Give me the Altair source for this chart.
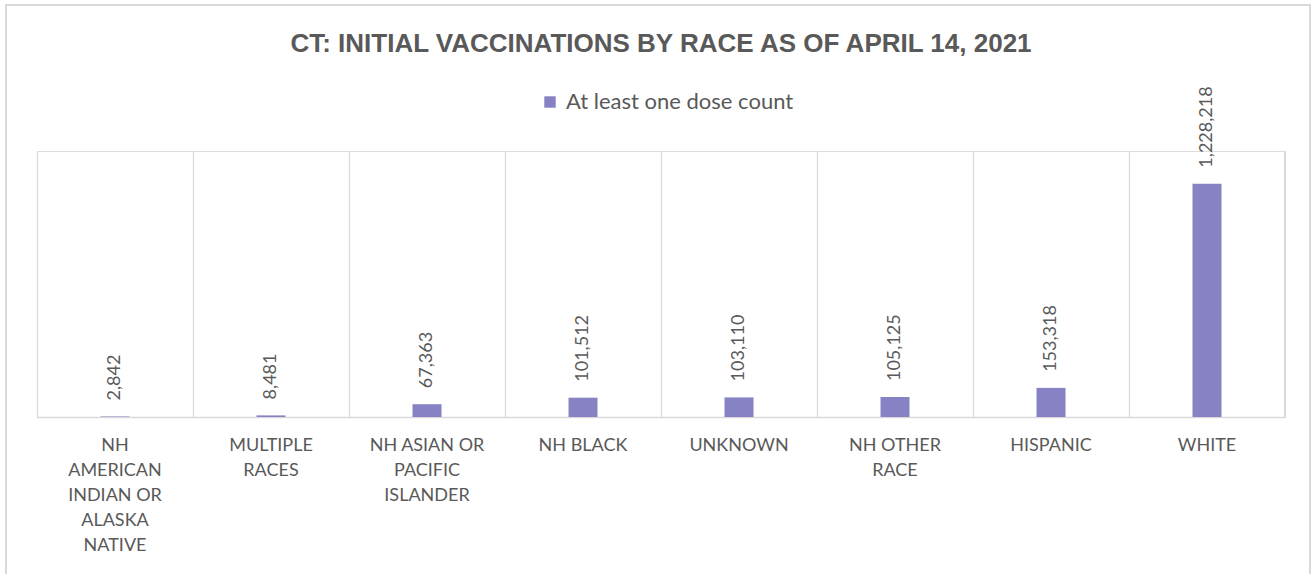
import altair as alt
import pandas as pd

# Initial (at least one dose) vaccination counts in Connecticut, by race
categories = [
    "NH|AMERICAN|INDIAN OR|ALASKA|NATIVE",
    "MULTIPLE|RACES",
    "NH ASIAN OR|PACIFIC|ISLANDER",
    "NH BLACK",
    "UNKNOWN",
    "NH OTHER|RACE",
    "HISPANIC",
    "WHITE",
]
dose_counts = [2842, 8481, 67363, 101512, 103110, 105125, 153318, 1228218]
series_name = "At least one dose count"

df = pd.DataFrame({
    "race": categories,
    "count": dose_counts,
    "series": [series_name] * len(categories),
})

W, H = 1248, 266
BAR_COLOR = "#8682c4"
TEXT_GRAY = "#595959"
LINE_GRAY = "#d9d9d9"

x_enc = alt.X(
    "race:N",
    sort=categories,
    scale=alt.Scale(paddingInner=0, paddingOuter=0),
    axis=alt.Axis(
        title=None,
        labelAngle=0,
        labelExpr="split(datum.label, '|')",
        labelFont="Lato",
        labelFontSize=18,
        labelColor=TEXT_GRAY,
        labelLineHeight=25,
        labelPadding=19,
        labelBaseline="top",
        ticks=False,
        domainColor=LINE_GRAY,
        domainWidth=1.5,
        grid=True,
        gridColor=LINE_GRAY,
        gridWidth=1.2,
        bandPosition=0,
    ),
)
y_enc = alt.Y(
    "count:Q",
    scale=alt.Scale(domain=[0, 1400000], nice=False),
    axis=None,
)

bars = alt.Chart(df).mark_bar(size=29, color=BAR_COLOR).encode(
    x=x_enc,
    y=y_enc,
    color=alt.Color(
        "series:N",
        scale=alt.Scale(range=[BAR_COLOR]),
        legend=alt.Legend(
            title=None,
            orient="none",
            legendX=502,
            legendY=-60,
            symbolType="square",
            symbolSize=130,
            symbolStrokeWidth=0,
            labelFont="Lato",
            labelFontSize=22,
            labelColor=TEXT_GRAY,
            labelOffset=5,
            labelLimit=0,
        ),
    ),
)

labels = alt.Chart(df).mark_text(
    angle=270,
    align="left",
    baseline="middle",
    dx=16,
    font="Lato",
    fontSize=18,
    color=TEXT_GRAY,
).encode(
    x=alt.X("race:N", sort=categories),
    y="count:Q",
    text=alt.Text("count:Q", format=","),
)

# closing gridline on the right edge of the last category band
right_edge = alt.Chart(df).mark_rule(color=LINE_GRAY, strokeWidth=1.2).encode(
    x=alt.value(W), y=alt.value(0), y2=alt.value(H)
)

# light frame around the whole figure
frame = alt.Chart(df).mark_rect(
    fill=None, stroke=LINE_GRAY, strokeWidth=1.5
).encode(
    x=alt.value(-31), x2=alt.value(1273), y=alt.value(-146), y2=alt.value(430)
)

chart = alt.layer(frame, right_edge, bars, labels).properties(
    width=W,
    height=H,
    autosize=alt.AutoSizeParams(type="none"),
    padding={"left": 37, "top": 151, "right": 29, "bottom": 157},
    title=alt.TitleParams(
        "CT: INITIAL VACCINATIONS BY RACE AS OF APRIL 14, 2021",
        font="Liberation Sans",
        fontSize=26,
        fontWeight="bold",
        color=TEXT_GRAY,
        anchor="middle",
        offset=-53,
    ),
).configure_view(stroke=None).configure(background="white")

chart.save("out.html", embed_options={"renderer": "svg", "actions": False})
